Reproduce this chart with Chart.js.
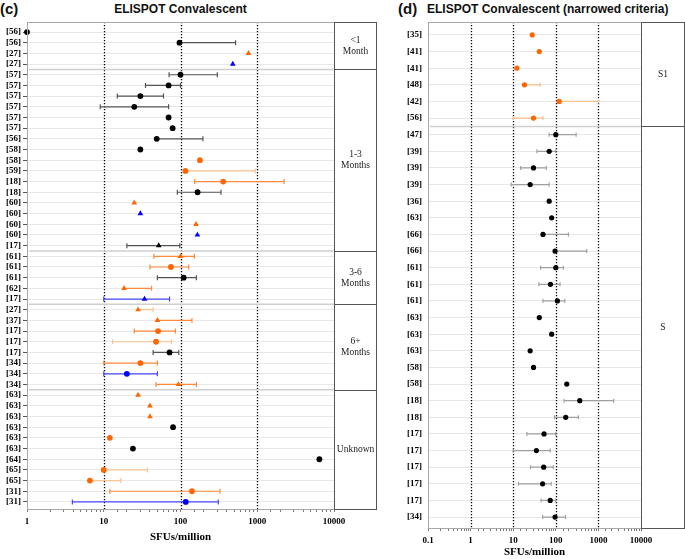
<!DOCTYPE html>
<html>
<head>
<meta charset="utf-8">
<script src="https://cdn.jsdelivr.net/npm/chart.js@4.4.0/dist/chart.umd.min.js"></script>
<style>
    body { margin: 0; background: #fff; width: 685px; height: 559px; position: relative; overflow: hidden; }
    .title { position: absolute; font-family: "Liberation Sans", Arial, sans-serif; font-weight: bold; font-size: 12px; line-height: 14px; white-space: nowrap; color: #111; }
    .panel { position: absolute; top: 0; }
</style>
</head>
<body>
<div class="title" style="left:0px; top:0px; font-size:15px; line-height:18px;">(c)</div>
<div class="title" style="left:27px; width:307px; top:2px; text-align:center;">ELISPOT Convalescent</div>
<div class="title" style="left:398px; top:0px; font-size:15px; line-height:18px;">(d)</div>
<div class="title" style="left:427px; top:2px;">ELISPOT Convalescent (narrowed criteria)</div>

<div class="panel" style="left:0px;"><canvas id="chartC" width="380" height="559"></canvas></div>
<div class="panel" style="left:380px;"><canvas id="chartD" width="305" height="559"></canvas></div>

<script>
// ---- panel (c): ELISPOT Convalescent ----
const labelsC = ['[56]', '[56]', '[27]', '[27]',
    '[57]', '[57]', '[57]', '[57]', '[57]', '[57]', '[56]', '[58]', '[58]', '[59]', '[18]', '[18]', '[60]', '[60]', '[60]', '[60]', '[17]',
    '[61]', '[61]', '[61]', '[62]', '[17]',
    '[27]', '[37]', '[17]', '[17]', '[17]', '[34]', '[34]', '[34]',
    '[63]', '[63]', '[63]', '[63]', '[63]', '[63]', '[64]', '[65]', '[65]', '[31]', '[31]'];
const valuesC = [1, 97, 770, 480,
    100, 70, 30, 25, 70, 79, 49, 30, 179, 116, 360, 167, 25, 30, 159, 166, 52,
    100, 75, 110, 18.4, 34,
    28, 50, 51, 48, 72, 30, 20, 94,
    28, 40, 40, 80, 12, 24, 6450, 10, 6.6, 141, 117];
const lowC = [null, null, null, null,
    71, 35, 15, 9, null, null, null, null, null, null, 153, 91, null, null, null, null, 20,
    45, 40, 50, null, 10,
    null, null, 25, 13, 44, 10, 10, 48,
    null, null, null, null, null, null, null, null, null, 12, 3.9];
const highC = [null, 522, null, null,
    302, 100, 60, 70, null, null, 196, null, null, 941, 2240, 337, null, null, null, null, 98,
    152, 128, 161, 42, 72,
    44, 141, 86, 76, 95, 50, 50, 161,
    null, null, null, null, null, null, null, 37, 16.7, 327, 311];
// antigen: N = nucleocapsid (black), S = spike (orange), M = membrane (blue)
const antigenC = ['N', 'N', 'S', 'M',
    'N', 'N', 'N', 'N', 'N', 'N', 'N', 'N', 'S', 'S', 'S', 'N', 'S', 'M', 'S', 'M', 'N',
    'S', 'S', 'N', 'S', 'M',
    'S', 'S', 'S', 'S', 'N', 'S', 'M', 'S',
    'S', 'S', 'S', 'N', 'S', 'N', 'N', 'S', 'S', 'S', 'M'];
// summary type: 'mean' drawn as circle, 'pool' drawn as triangle
const summaryC = ['mean', 'mean', 'pool', 'pool',
    'mean', 'mean', 'mean', 'mean', 'mean', 'mean', 'mean', 'mean', 'mean', 'mean', 'mean', 'mean', 'pool', 'pool', 'pool', 'pool', 'pool',
    'pool', 'mean', 'mean', 'pool', 'pool',
    'pool', 'pool', 'mean', 'mean', 'mean', 'mean', 'mean', 'pool',
    'pool', 'pool', 'pool', 'mean', 'mean', 'mean', 'mean', 'mean', 'mean', 'mean', 'mean'];
// spread: IQR or full range
const spreadC = ['IQR', 'IQR', 'IQR', 'IQR',
    'IQR', 'IQR', 'IQR', 'IQR', 'IQR', 'IQR', 'IQR', 'IQR', 'IQR', 'range', 'IQR', 'IQR', 'IQR', 'IQR', 'IQR', 'IQR', 'IQR',
    'IQR', 'IQR', 'IQR', 'IQR', 'IQR',
    'range', 'IQR', 'IQR', 'range', 'IQR', 'IQR', 'IQR', 'IQR',
    'IQR', 'IQR', 'IQR', 'IQR', 'IQR', 'IQR', 'IQR', 'range', 'range', 'IQR', 'IQR'];
const groupsC = ['<1\nMonth', '1-3\nMonths', '3-6\nMonths', '6+\nMonths', 'Unknown'];
const groupSizesC = [4, 17, 5, 8, 11];
const decadesC = [1, 10, 100, 1000, 10000];

// ---- panel (d): ELISPOT Convalescent (narrowed criteria) ----
const labelsD = ['[35]', '[41]', '[41]', '[48]', '[42]', '[56]',
    '[47]', '[39]', '[39]', '[39]', '[36]', '[63]', '[66]', '[66]', '[61]', '[61]', '[61]', '[63]', '[63]', '[63]',
    '[58]', '[58]', '[18]', '[18]', '[17]', '[17]', '[17]', '[17]', '[17]', '[34]'];
const valuesD = [28, 41, 12.2, 18.4, 120, 30,
    100, 70, 30, 25, 70, 80, 50, 96, 100, 75, 109, 41, 80, 25,
    30, 181, 365, 171, 53, 35, 52, 49, 74, 96];
const lowD = [null, null, null, null, null, 10,
    70, 36, 15, 9, null, null, null, null, 44, 40, 50, null, null, null,
    null, null, 157, 93, 21, 10, 25.5, 13.3, 45, 49];
const highD = [null, null, null, 43, 1000, 50,
    300, 100, 60, 70, null, null, 198, 533, 151, 126, 163, null, null, null,
    null, null, 2290, 339, 100, 74, 87, 78, 100, 169];
const antigenD = ['S', 'S', 'S', 'S', 'S', 'S',
    'N', 'N', 'N', 'N', 'N', 'N', 'N', 'N', 'N', 'N', 'N', 'N', 'N', 'N',
    'N', 'N', 'N', 'N', 'N', 'N', 'N', 'N', 'N', 'N'];
const groupsD = ['S1', 'S'];
const groupSizesD = [6, 24];
const decadesD = [0.1, 1, 10, 100, 1000, 10000];

const markerColors = { N: '#000000', S: '#ff6600', M: '#0000ff' };

document.addEventListener('DOMContentLoaded', function () {
    loadPanelC();
    loadPanelD();
});

function isDecade(v) {
    const l = Math.log10(v);
    return Math.abs(l - Math.round(l)) < 1e-6;
}

// Plugin drawing reference lines, group separators, error bars and the group label box
function forestPlugin(cfg) {
    return {
        id: 'forest' + cfg.name,
        beforeDatasetsDraw(chart) {
            const { ctx, chartArea: a, scales: { x, y } } = chart;
            ctx.save();
            // dotted lines at the inner decades
            ctx.strokeStyle = '#000';
            ctx.lineWidth = 1.3;
            ctx.setLineDash([1.3, 1.7]);
            cfg.refLines.forEach(v => {
                const px = Math.round(x.getPixelForValue(v)) + 0.5;
                ctx.beginPath();
                ctx.moveTo(px, a.top);
                ctx.lineTo(px, a.bottom);
                ctx.stroke();
            });
            ctx.setLineDash([]);

            // light separators between groups
            ctx.strokeStyle = '#cfcfcf';
            ctx.lineWidth = 1.5;
            let row = 0;
            cfg.groupSizes.slice(0, -1).forEach(n => {
                row += n;
                const py = y.getPixelForValue(row - 0.5);
                ctx.beginPath();
                ctx.moveTo(a.left + 2, py);
                ctx.lineTo(a.right, py);
                ctx.stroke();
            });

            // error bars
            ctx.lineWidth = 1.2;
            cfg.values.forEach((v, i) => {
                const hi = cfg.high[i];
                if (hi == null) return;
                const lo = cfg.low[i];
                const py = y.getPixelForValue(i);
                const x0 = x.getPixelForValue(lo == null ? v : lo);
                const x1 = x.getPixelForValue(hi);
                ctx.strokeStyle = cfg.barColor(i);
                ctx.beginPath();
                ctx.moveTo(x0, py);
                ctx.lineTo(x1, py);
                ctx.moveTo(x1, py - cfg.cap);
                ctx.lineTo(x1, py + cfg.cap);
                if (lo != null) {
                    ctx.moveTo(x0, py - cfg.cap);
                    ctx.lineTo(x0, py + cfg.cap);
                }
                ctx.stroke();
            });
            ctx.restore();
        },
        afterDraw(chart) {
            const { ctx, chartArea: a, scales: { y } } = chart;
            const left = a.right;
            const right = a.right + cfg.boxWidth;
            const last = cfg.groups.length - 1;
            ctx.save();
            ctx.lineWidth = 1;
            ctx.strokeStyle = '#a8a8a8';
            ctx.strokeRect(a.left + 0.5, a.top + 0.5, a.width, a.height);
            ctx.strokeStyle = '#555';
            ctx.strokeRect(left + 0.5, a.top + 0.5, right - left - 1, a.height);

            ctx.font = '9.5px "Liberation Serif", "Times New Roman", serif';
            ctx.textAlign = 'center';
            ctx.textBaseline = 'middle';
            ctx.fillStyle = '#222';
            let row = 0;
            cfg.groups.forEach((name, g) => {
                const top = g === 0 ? a.top : y.getPixelForValue(row - 0.5);
                row += cfg.groupSizes[g];
                const bottom = g === last ? a.bottom : y.getPixelForValue(row - 0.5);
                if (g < last) {
                    ctx.beginPath();
                    ctx.moveTo(left, Math.round(bottom) + 0.5);
                    ctx.lineTo(right, Math.round(bottom) + 0.5);
                    ctx.stroke();
                }
                const lines = name.split('\n');
                lines.forEach((t, k) => {
                    ctx.fillText(t, (left + right) / 2, (top + bottom) / 2 + (k - (lines.length - 1) / 2) * 11);
                });
            });
            ctx.restore();
        }
    };
}

function buildChart(canvasId, p) {
    const ctx = document.getElementById(canvasId).getContext('2d');
    const serifBold = { family: '"Liberation Serif", "Times New Roman", serif', weight: 'bold', size: 9 };
    return new Chart(ctx, {
        type: 'scatter',
        data: {
            datasets: [{
                data: p.values.map((v, i) => ({ x: v, y: i })),
                clip: false,
                pointStyle: c => p.summary[c.dataIndex] === 'pool' ? 'triangle' : 'circle',
                pointRadius: c => p.summary[c.dataIndex] === 'pool' ? 3.3 : p.radius,
                pointBackgroundColor: c => markerColors[p.antigen[c.dataIndex]],
                pointBorderWidth: 0
            }]
        },
        options: {
            responsive: false,
            animation: false,
            layout: { padding: { top: 22, right: p.padRight, bottom: p.padBottom, left: 0 } },
            plugins: { legend: { display: false }, tooltip: { enabled: false } },
            scales: {
                x: {
                    type: 'logarithmic',
                    min: p.xMin,
                    max: 10000,
                    afterFit: s => { s.height = p.xHeight; },
                    ticks: {
                        autoSkip: false,
                        maxRotation: 0,
                        padding: 4,
                        color: '#000',
                        font: serifBold,
                        callback: v => isDecade(v) && p.decades.some(d => Math.abs(d - v) / d < 1e-6) ? String(+v.toPrecision(6)) : ''
                    },
                    grid: { drawOnChartArea: false, tickLength: 3, tickColor: '#777' },
                    border: { color: '#a8a8a8' },
                    title: {
                        display: true,
                        text: 'SFUs/million',
                        color: '#000',
                        padding: 0,
                        font: { family: '"Liberation Serif", "Times New Roman", serif', weight: 'bold', size: 11 }
                    }
                },
                y: {
                    type: 'linear',
                    reverse: true,
                    min: p.yMin,
                    max: p.yMax,
                    afterBuildTicks: s => { s.ticks = p.labels.map((_, i) => ({ value: i })); },
                    afterFit: s => { s.width = p.yWidth; },
                    ticks: {
                        autoSkip: false,
                        padding: p.yPad,
                        color: '#000',
                        font: serifBold,
                        callback: v => p.labels[v]
                    },
                    grid: { color: '#e8e8e8', lineWidth: 1, drawTicks: p.yTicks, tickLength: 4, tickColor: '#555' },
                    border: { color: '#a8a8a8' }
                }
            }
        },
        plugins: [forestPlugin(p)]
    });
}

function loadPanelC() {
    buildChart('chartC', {
        name: 'C',
        labels: labelsC, values: valuesC, low: lowC, high: highC,
        antigen: antigenC, summary: summaryC,
        groups: groupsC, groupSizes: groupSizesC, decades: decadesC,
        refLines: [10, 100, 1000],
        xMin: 1, yMin: -0.94, yMax: 44.66,
        yWidth: 27, yPad: 2, yTicks: true,
        xHeight: 35, padBottom: 15, padRight: 46, boxWidth: 43,
        radius: 2.9, cap: 2.5,
        barColor: i => {
            const a = antigenC[i];
            if (a === 'N') return '#555';
            if (a === 'M') return '#4646ff';
            return spreadC[i] === 'range' ? '#fcc493' : '#ff8a3d';
        }
    });
}

function loadPanelD() {
    buildChart('chartD', {
        name: 'D',
        labels: labelsD, values: valuesD, low: lowD, high: highD,
        antigen: antigenD, summary: labelsD.map(() => 'mean'),
        groups: groupsD, groupSizes: groupSizesD, decades: decadesD,
        refLines: [1, 10, 100, 1000],
        xMin: 0.1, yMin: -0.78, yMax: 29.66,
        yWidth: 48, yPad: 6, yTicks: false,
        xHeight: 31, padBottom: 0, padRight: 44, boxWidth: 44,
        radius: 2.6, cap: 2,
        barColor: i => antigenD[i] === 'N' ? '#a0a0a0' : '#fbbf8e'
    });
}
</script>
</body>
</html>
